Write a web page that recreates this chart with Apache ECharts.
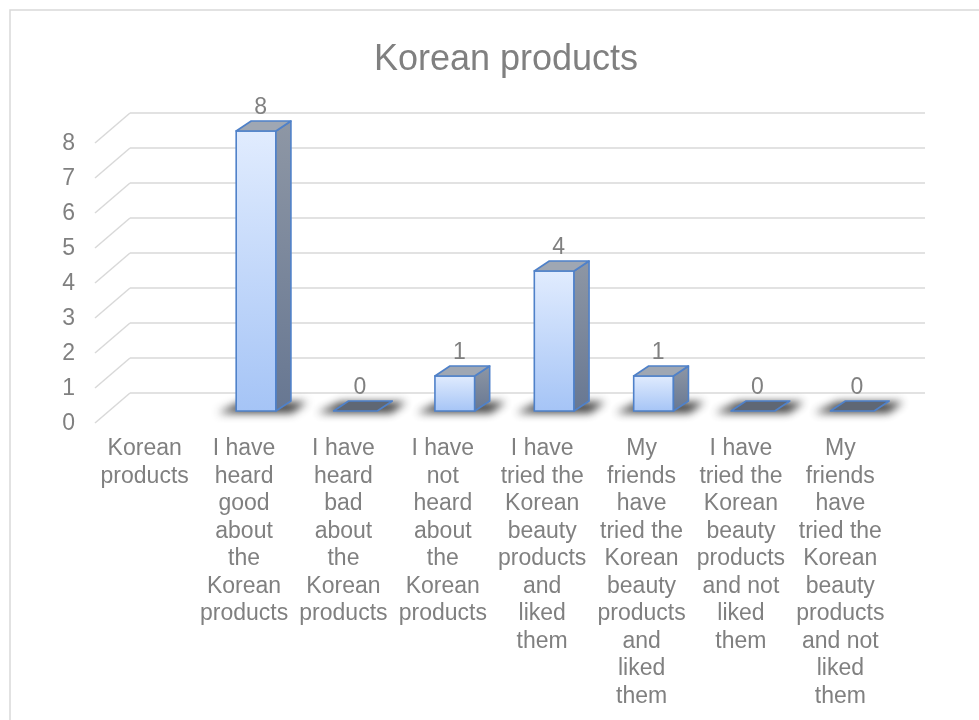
<!DOCTYPE html>
<html>
<head>
<meta charset="utf-8">
<script src="https://cdn.jsdelivr.net/npm/echarts@6/dist/echarts.min.js"></script>
<style>
  html, body { margin: 0; padding: 0; background: #ffffff; }
  #chart { width: 979px; height: 720px; }
</style>
</head>
<body>
<div id="chart"></div>
<script>
// Category names, wrapped the way they appear under each column
const categories = [
  'Korean\nproducts',
  'I have\nheard\ngood\nabout\nthe\nKorean\nproducts',
  'I have\nheard\nbad\nabout\nthe\nKorean\nproducts',
  'I have\nnot\nheard\nabout\nthe\nKorean\nproducts',
  'I have\ntried the\nKorean\nbeauty\nproducts\nand\nliked\nthem',
  'My\nfriends\nhave\ntried the\nKorean\nbeauty\nproducts\nand\nliked\nthem',
  'I have\ntried the\nKorean\nbeauty\nproducts\nand not\nliked\nthem',
  'My\nfriends\nhave\ntried the\nKorean\nbeauty\nproducts\nand not\nliked\nthem'
];
// Responses per category (the first column is the group header and has no value)
const values = [null, 8, 0, 1, 4, 1, 0, 0];
// Value-axis ticks
const yTicks = [0, 1, 2, 3, 4, 5, 6, 7, 8];

const TEXT = '#808080';
const FONT = '"Liberation Sans", Arial, sans-serif';
const GRID_COLOR = '#d9d9d9';
// Oblique projection: front plane -> back wall
const WALL = [35, -31];
// Column front face offset from the front plane, and column depth
const COL_FRONT = [12, -13];
const COL_DEPTH = [15, -10];
const BORDER = '#4f81c9';

const chart = echarts.init(document.getElementById('chart'), null, { renderer: 'canvas' });

function renderGrid(params, api) {
  const yv = api.value(1);
  const band = api.size([1, 0])[0];
  const first = api.coord([0, yv]);
  const last = api.coord([categories.length - 1, yv]);
  const fx0 = first[0] - band / 2;
  const fx1 = last[0] + band / 2;
  const fy = first[1];
  const style = { stroke: GRID_COLOR, lineWidth: 1.5 };
  return {
    type: 'group',
    children: [
      { type: 'line', shape: { x1: fx0, y1: fy - 1, x2: fx0 + WALL[0], y2: fy + WALL[1] }, style },
      { type: 'line', shape: { x1: fx0 + WALL[0], y1: fy + WALL[1], x2: fx1 + WALL[0], y2: fy + WALL[1] }, style }
    ]
  };
}

function renderColumn(params, api) {
  const i = api.value(0);
  const v = api.value(1);
  if (v == null || isNaN(v)) return null;
  const band = api.size([1, 0])[0];
  const w = band * 0.4;
  const base = api.coord([i, 0]);
  const top = api.coord([i, v]);
  const cx = base[0] + COL_FRONT[0];
  const x0 = cx - w / 2, x1 = cx + w / 2;
  const yb = base[1] + COL_FRONT[1];
  const yt = top[1] + COL_FRONT[1];
  const dx = COL_DEPTH[0], dy = COL_DEPTH[1];
  const children = [];

  // soft floor shadow (shape drawn off-canvas, only its shadow lands on the floor)
  const off = 3000;
  children.push({
    type: 'polygon',
    shape: { points: [[x0 - 18 - off, yb + 2], [x1 + 16 - off, yb + 2], [x1 + dx + 16 - off, yb + dy + 1], [x0 + dx - 10 - off, yb + dy + 1]] },
    style: { fill: 'rgba(0,0,0,0.9)', shadowBlur: 9, shadowColor: 'rgba(30,30,30,0.95)', shadowOffsetX: off, shadowOffsetY: 0 },
    silent: true
  });

  if (v > 0) {
    // front face
    children.push({
      type: 'rect',
      shape: { x: x0, y: yt, width: w, height: yb - yt },
      style: {
        fill: { type: 'linear', x: 0, y: 0, x2: 0, y2: 1, colorStops: [{ offset: 0, color: '#e1ecfe' }, { offset: 1, color: '#a5c4f6' }] },
        stroke: BORDER, lineWidth: 1.6
      }
    });
    // side face
    children.push({
      type: 'polygon',
      shape: { points: [[x1, yb], [x1 + dx, yb + dy], [x1 + dx, yt + dy], [x1, yt]] },
      style: {
        fill: { type: 'linear', x: 0, y: 0, x2: 0, y2: 1, colorStops: [{ offset: 0, color: '#8e97a5' }, { offset: 1, color: '#677792' }] },
        stroke: BORDER, lineWidth: 1.6, lineJoin: 'round'
      }
    });
  }
  // top face (also the flat cap for zero values)
  const flat = v > 0 ? 0 : 2;
  children.push({
    type: 'polygon',
    shape: { points: [[x0 - flat, yt], [x1 + flat, yt], [x1 + dx + flat, yt + dy], [x0 + dx - flat, yt + dy]] },
    style: { fill: v > 0 ? '#9fa7b3' : '#5f6774', stroke: BORDER, lineWidth: 1.6, lineJoin: 'round' }
  });
  // value label
  children.push({
    type: 'text',
    style: {
      x: cx + dx / 2 - 3, y: yt + dy - 13,
      text: String(v), fill: TEXT, font: '23px ' + FONT,
      align: 'center', verticalAlign: 'middle'
    }
  });
  return { type: 'group', children };
}

chart.setOption({
  animation: false,
  backgroundColor: '#ffffff',
  title: {
    text: 'Korean products',
    left: 501,
    textAlign: 'center',
    top: 37,
    textStyle: { color: TEXT, fontSize: 36, fontWeight: 'normal', fontFamily: FONT }
  },
  graphic: [{
    type: 'rect', silent: true, z: -10,
    shape: { x: 10, y: 10, width: 1100, height: 1000 },
    style: { fill: 'none', stroke: GRID_COLOR, lineWidth: 1.5 }
  }],
  grid: { left: 95, right: 89, top: 144, bottom: 296, containLabel: false },
  xAxis: {
    type: 'category',
    data: categories,
    boundaryGap: true,
    axisLine: { show: false },
    axisTick: { show: false },
    axisLabel: { interval: 0, margin: 11, color: TEXT, fontSize: 23, lineHeight: 27.5, fontFamily: FONT, align: 'center' },
    splitLine: { show: false }
  },
  yAxis: {
    type: 'value',
    min: 0, max: 8, interval: 1,
    axisLine: { show: false },
    axisTick: { show: false },
    splitLine: { show: false },
    axisLabel: { margin: 20, color: TEXT, fontSize: 23, fontFamily: FONT, formatter: (val) => yTicks.includes(val) ? String(val) : '' }
  },
  series: [
    {
      type: 'custom',
      silent: true,
      z: 1,
      renderItem: renderGrid,
      data: yTicks.map(t => [0, t])
    },
    {
      type: 'custom',
      z: 2,
      renderItem: renderColumn,
      data: values.map((v, i) => [i, v])
    }
  ]
});
</script>
</body>
</html>
